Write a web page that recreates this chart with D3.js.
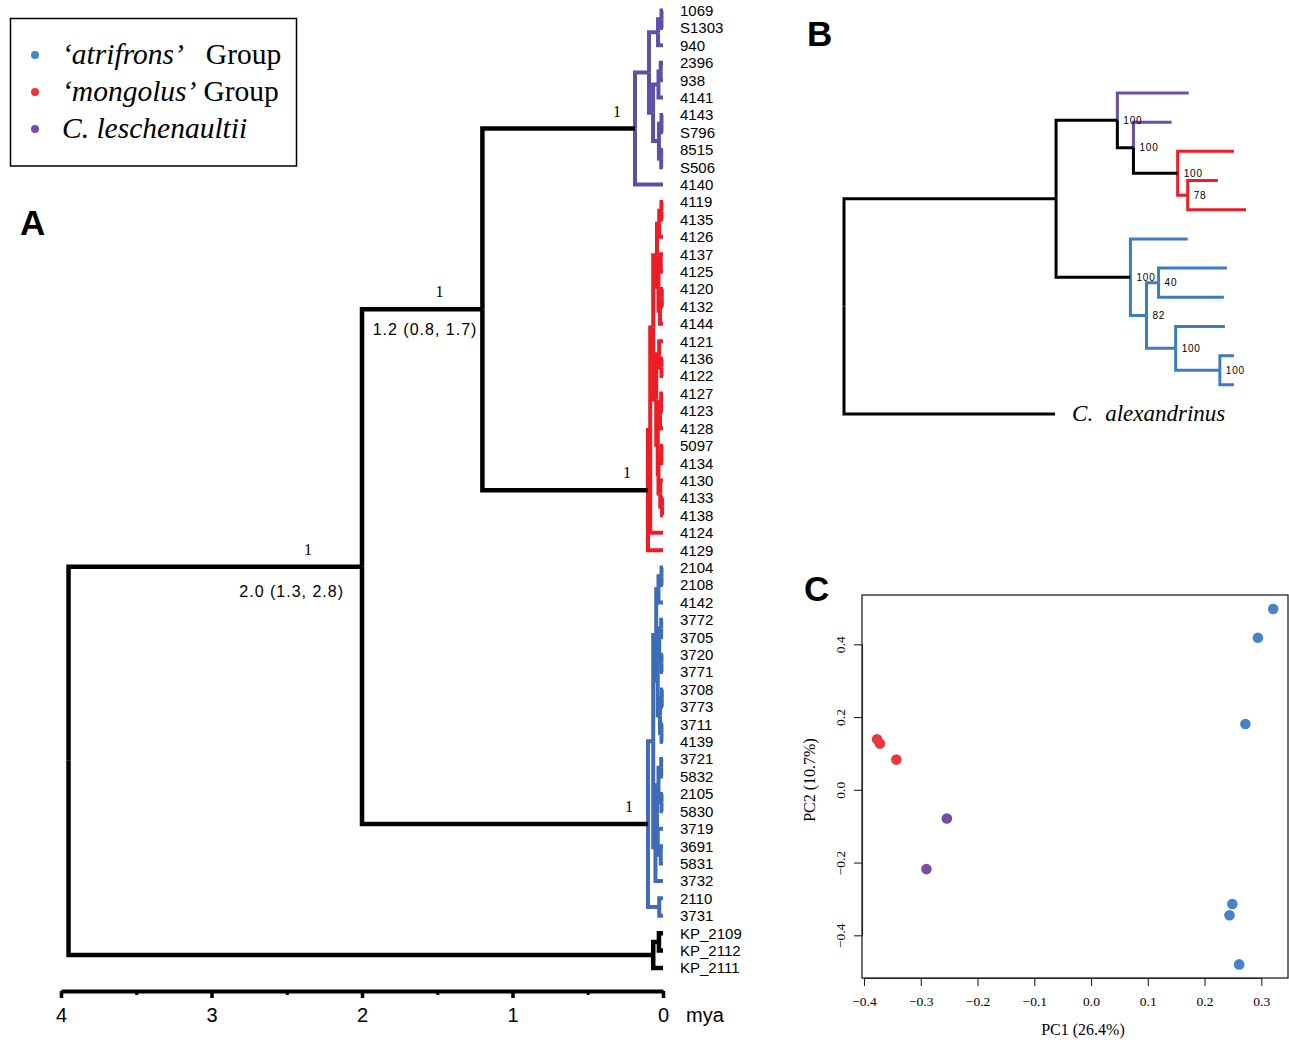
<!DOCTYPE html>
<html>
<head>
<meta charset="utf-8">
<script src="https://cdn.jsdelivr.net/npm/d3@7"></script>
<style>
  body { margin: 0; background: #fff; }
  svg { display: block; }
</style>
</head>
<body>
<svg id="fig" width="1289" height="1040"></svg>
<script>
// ---------- data ----------
// Panel A: dated tree. Number after ":" on an internal node = node age (mya); tips are age 0.
var purpleClade = "((((1069,S1303):0.01,940):0.033,(((2396,938):0.015,4141):0.03,((4143,S796):0.01,(8515,S506):0.012):0.027):0.066):0.093,4140)purple:0.186";
var redClade = "((((((4119,4135):0.01,4126):0.025,((4137,4125):0.015,((4120,4132):0.008,4144):0.02):0.03):0.04,((4121,(4136,4122):0.01):0.025,(((4127,4123):0.012,4128):0.02,((5097,4134):0.01,(4130,(4133,4138):0.006):0.018):0.03):0.035):0.045):0.065,4124):0.085,4129)red:0.1";
var blueClade = "(((((2104,2108):0.01,4142):0.03,(((3772,3705):0.012,(3720,3771):0.01):0.025,((3708,3773):0.008,(3711,4139):0.01):0.02):0.035):0.045,((((3721,5832):0.012,(2105,5830):0.01):0.03,(3719,(3691,5831):0.015):0.035):0.04,3732):0.05):0.065,(2110,3731):0.025)blue:0.1";
var outgroupA = "((KP_2109,KP_2112):0.027,KP_2111):0.065";
var newickA = "(((" + purpleClade + "," + redClade + ")n12:1.2," + blueClade + ")n20:2.0," + outgroupA + "):3.95";

var cladeGroupA = { purple: "leschenaultii", red: "mongolus", blue: "atrifrons" };
var supportA = [["purple", "1"], ["red", "1"], ["blue", "1"], ["n12", "1"], ["n20", "1"]];
var agesA = [["n12", "1.2 (0.8, 1.7)"], ["n20", "2.0 (1.3, 2.8)"]];
var majorTicksA = [4, 3, 2, 1, 0];
var minorTicksA = [3.5, 2.5, 1.5, 0.5];

// Panel B: branch lengths, support as internal node names
var newickB = "(((p1:0.071,(p2:0.038,(r1:0.056,(r2:0.030,r3:0.058)78:0.010)100:0.044)100:0.016)100:0.061,(b1:0.057,((b2:0.068,b3:0.065)40:0.012,(b4:0.049,(b5:0.014,b6:0.014)100:0.044)100:0.029)82:0.016)100:0.074):0.211,alexandrinus:0.210);";
var leschenaultiiB = ["p1", "p2"];
var mongolusB = ["r1", "r2", "r3"];
var atrifronsB = ["b1", "b2", "b3", "b4", "b5", "b6"];

// Panel C: PCA
var pcaGroup = ["atrifrons", "atrifrons", "atrifrons", "atrifrons", "atrifrons", "atrifrons",
                "mongolus", "mongolus", "mongolus", "leschenaultii", "leschenaultii"];
var pc1 = [0.321, 0.294, 0.272, 0.249, 0.244, 0.261, -0.377, -0.372, -0.343, -0.254, -0.290];
var pc2 = [0.497, 0.418, 0.181, -0.314, -0.345, -0.480, 0.139, 0.127, 0.083, -0.079, -0.218];
var xTicksC = [-0.4, -0.3, -0.2, -0.1, 0.0, 0.1, 0.2, 0.3];
var yTicksC = [-0.4, -0.2, 0.0, 0.2, 0.4];

// legend
var legendGroups = ["atrifrons", "mongolus", "leschenaultii"];
var legendItalic = ["\u2018atrifrons\u2019", "\u2018mongolus\u2019", "C. leschenaultii"];
var legendPlain = ["Group", "Group", ""];

// ---------- styles ----------
var SANS = "Arial, 'Liberation Sans', sans-serif";
var SERIF = "'Times New Roman', 'Liberation Serif', serif";
var treeColA = { leschenaultii: "#5e50a8", mongolus: "#ee1c25", atrifrons: "#3f6cb6" };
var treeColB = { leschenaultii: "#6a4fa6", mongolus: "#ee1c25", atrifrons: "#3d7cc3" };
var dotCol = { leschenaultii: "#7a4c9e", mongolus: "#e9393d", atrifrons: "#4684c8" };

var svg = d3.select("#fig");

function parseNewick(str) {
  var i = 0;
  function parseNode() {
    var node = { name: "", children: [] };
    if (str[i] === "(") {
      i++;
      node.children.push(parseNode());
      while (str[i] === ",") { i++; node.children.push(parseNode()); }
      i++; // ")"
    }
    var start = i;
    while (i < str.length && ":,();".indexOf(str[i]) < 0) i++;
    node.name = str.slice(start, i);
    if (str[i] === ":") {
      i++; start = i;
      while (i < str.length && ",();".indexOf(str[i]) < 0) i++;
      node.value = +str.slice(start, i);
    }
    return node;
  }
  return parseNode();
}

// group of a node = shared group of all its tips, else null
function setGroups(root, tipGroup) {
  root.eachAfter(function(d) {
    if (!d.children) { d.group = tipGroup(d); return; }
    var g = d.children[0].group;
    d.group = d.children.every(function(c) { return c.group === g; }) ? g : null;
  });
}
function stemColor(d, cols) {
  if (d.group && (!d.children || d.parent.group === d.group)) return cols[d.group];
  return "#000";
}
function elbow(d) {
  return "M" + d.parent.x + "," + d.parent.y + "V" + d.y + "H" + d.x;
}

// ---------- panel A ----------
var rootA = d3.hierarchy(parseNewick(newickA), function(d) { return d.children.length ? d.children : null; });
var leavesA = rootA.leaves();
var yA = d3.scalePoint().domain(leavesA.map(function(d) { return d.data.name; })).range([10.5, 968]);
var xA = d3.scaleLinear().domain([4, 0]).range([61, 663]);

rootA.eachAfter(function(d) {
  if (!d.children) { d.age = 0; d.y = yA(d.data.name); }
  else {
    d.age = d.data.value;
    d.y = (d.children[0].y + d.children[d.children.length - 1].y) / 2;
  }
  d.x = xA(d.age);
});
setGroups(rootA, function(d) {
  var a = d.ancestors().find(function(n) { return cladeGroupA[n.data.name]; });
  return a ? cladeGroupA[a.data.name] : null;
});

var nodeA = {};
rootA.each(function(d) { if (d.data.name) nodeA[d.data.name] = d; });

var gA = svg.append("g");
gA.selectAll("path.br")
  .data(rootA.descendants().slice(1).sort(function(a, b) {
    return (stemColor(a, treeColA) === "#000") - (stemColor(b, treeColA) === "#000");
  }))
  .join("path")
  .attr("class", "br")
  .attr("d", elbow)
  .attr("fill", "none")
  .attr("stroke", function(d) { return stemColor(d, treeColA); })
  .attr("stroke-width", function(d) { return stemColor(d, treeColA) === "#000" ? 4.5 : 4; })
  .attr("stroke-linejoin", "miter");

gA.selectAll("text.tip")
  .data(leavesA)
  .join("text")
  .attr("class", "tip")
  .attr("x", 680)
  .attr("y", function(d) { return d.y; })
  .attr("dy", "0.36em")
  .attr("font-family", SANS)
  .attr("font-size", 15)
  .text(function(d) { return d.data.name; });

var supportDx = { purple: -18, red: -21, blue: -19, n12: -43, n20: -54 };
gA.selectAll("text.sup")
  .data(supportA)
  .join("text")
  .attr("class", "sup")
  .attr("x", function(d) { return nodeA[d[0]].x + supportDx[d[0]]; })
  .attr("y", function(d) { return nodeA[d[0]].y - 12; })
  .attr("text-anchor", "middle")
  .attr("font-family", SERIF)
  .attr("font-size", 16)
  .text(function(d) { return d[1]; });

var ageDx = { n12: -5, n20: -18 }, ageDy = { n12: 26, n20: 30 };
gA.selectAll("text.age")
  .data(agesA)
  .join("text")
  .attr("class", "age")
  .attr("x", function(d) { return nodeA[d[0]].x + ageDx[d[0]]; })
  .attr("y", function(d) { return nodeA[d[0]].y + ageDy[d[0]]; })
  .attr("text-anchor", "end")
  .attr("font-family", SANS)
  .attr("font-size", 16)
  .attr("letter-spacing", 1)
  .text(function(d) { return d[1]; });

// time axis
var axA = svg.append("g").attr("transform", "translate(0,991)")
  .call(d3.axisBottom(xA).tickValues(majorTicksA).tickFormat(d3.format("d"))
    .tickSize(7).tickSizeOuter(0).tickPadding(10));
axA.attr("font-family", SANS).attr("font-size", 20);
axA.select(".domain").attr("stroke-width", 4);
axA.selectAll(".tick line").attr("stroke-width", 3.5);
svg.append("g").attr("transform", "translate(0,991)")
  .call(d3.axisBottom(xA).tickValues(minorTicksA).tickSize(4).tickFormat(""))
  .call(function(g) { g.select(".domain").remove(); })
  .selectAll("line").attr("stroke-width", 3);
svg.append("text").attr("x", 686).attr("y", 1022)
  .attr("font-family", SANS).attr("font-size", 20).text("mya");

// legend
var leg = svg.append("g");
leg.append("rect").attr("x", 10.5).attr("y", 18.5).attr("width", 286).attr("height", 147.5)
  .attr("fill", "none").attr("stroke", "#000").attr("stroke-width", 1.5);
legendGroups.forEach(function(g, i) {
  var cy = 55 + i * 37;
  leg.append("circle").attr("cx", 35).attr("cy", cy).attr("r", 4).attr("fill", dotCol[g]);
  var t = leg.append("text").attr("x", 62).attr("y", cy + 9)
    .attr("font-family", SERIF).attr("font-size", 29.5);
  t.append("tspan").attr("font-style", "italic").text(legendItalic[i]);
  if (legendPlain[i]) t.append("tspan").attr("dx", i === 0 ? 22 : 7).text(legendPlain[i]);
});

// panel letters
[["A", 20, 235], ["B", 807, 46], ["C", 804, 601]].forEach(function(p) {
  svg.append("text").attr("x", p[1]).attr("y", p[2])
    .attr("font-family", SANS).attr("font-weight", "bold").attr("font-size", 35).text(p[0]);
});

// ---------- panel B ----------
var rootB = d3.hierarchy(parseNewick(newickB), function(d) { return d.children.length ? d.children : null; });
var leavesB = rootB.leaves();
var yB = d3.scalePoint().domain(leavesB.map(function(d) { return d.data.name; })).range([93, 414]);
var xB = d3.scaleLinear().domain([0, 0.4]).range([844, 1246]);
rootB.eachBefore(function(d) { d.len = d.parent ? d.parent.len + d.data.value : 0; d.x = xB(d.len); });
rootB.eachAfter(function(d) {
  d.y = d.children ? (d.children[0].y + d.children[d.children.length - 1].y) / 2 : yB(d.data.name);
});
setGroups(rootB, function(d) {
  var n = d.data.name;
  if (leschenaultiiB.indexOf(n) >= 0) return "leschenaultii";
  if (mongolusB.indexOf(n) >= 0) return "mongolus";
  if (atrifronsB.indexOf(n) >= 0) return "atrifrons";
  return null;
});

var gB = svg.append("g");
gB.selectAll("path.br")
  .data(rootB.descendants().slice(1).sort(function(a, b) {
    return (stemColor(a, treeColB) === "#000") - (stemColor(b, treeColB) === "#000");
  }))
  .join("path")
  .attr("class", "br")
  .attr("d", elbow)
  .attr("fill", "none")
  .attr("stroke", function(d) { return stemColor(d, treeColB); })
  .attr("stroke-width", 3);

gB.selectAll("text.sup")
  .data(rootB.descendants().filter(function(d) { return d.children && d.data.name; }))
  .join("text")
  .attr("class", "sup")
  .attr("x", function(d) { return d.x + 6; })
  .attr("y", function(d) { return d.y + 3.5; })
  .attr("font-family", SANS)
  .attr("font-size", 10)
  .attr("letter-spacing", 0.8)
  .text(function(d) { return d.data.name; });

leavesB.filter(function(d) { return !d.group; }).forEach(function(d) {
  var t = gB.append("text").attr("x", d.x + 17).attr("y", d.y + 7)
    .attr("font-family", SERIF).attr("font-style", "italic").attr("font-size", 23);
  t.append("tspan").text("C.");
  t.append("tspan").attr("dx", 12).text(d.data.name);
});

// ---------- panel C ----------
var xC = d3.scaleLinear().domain([-0.4, 0.3]).range([864, 1261.3]);
var yC = d3.scaleLinear().domain([-0.4, 0.4]).range([935.3, 644.3]);
var gC = svg.append("g");
gC.append("rect").attr("x", 862).attr("y", 595).attr("width", 426).attr("height", 383)
  .attr("fill", "none").attr("stroke", "#222").attr("stroke-width", 1.3);

var axCx = gC.append("g").attr("transform", "translate(0,978)")
  .call(d3.axisBottom(xC).tickValues(xTicksC).tickFormat(d3.format(".1f"))
    .tickSize(8).tickSizeOuter(0).tickPadding(10));
var axCy = gC.append("g").attr("transform", "translate(862,0)")
  .call(d3.axisLeft(yC).tickValues(yTicksC).tickFormat(d3.format(".1f"))
    .tickSize(8).tickSizeOuter(0));
[axCx, axCy].forEach(function(ax) {
  ax.attr("font-family", SERIF).attr("font-size", 13.5);
  ax.selectAll("line, .domain").attr("stroke", "#222").attr("stroke-width", 1.1);
});
axCy.selectAll(".tick text")
  .attr("x", 0).attr("dy", 0).attr("text-anchor", "middle")
  .attr("transform", "translate(-17,0) rotate(-90)");

gC.selectAll("circle")
  .data(pc1.map(function(v, i) { return [v, pc2[i], pcaGroup[i]]; }))
  .join("circle")
  .attr("cx", function(d) { return xC(d[0]); })
  .attr("cy", function(d) { return yC(d[1]); })
  .attr("r", 5.3)
  .attr("fill", function(d) { return dotCol[d[2]]; });

gC.append("text").attr("x", 1083).attr("y", 1035).attr("text-anchor", "middle")
  .attr("font-family", SERIF).attr("font-size", 16).text("PC1 (26.4%)");
gC.append("text").attr("transform", "translate(815,780) rotate(-90)").attr("text-anchor", "middle")
  .attr("font-family", SERIF).attr("font-size", 16).text("PC2 (10.7%)");
</script>
</body>
</html>
